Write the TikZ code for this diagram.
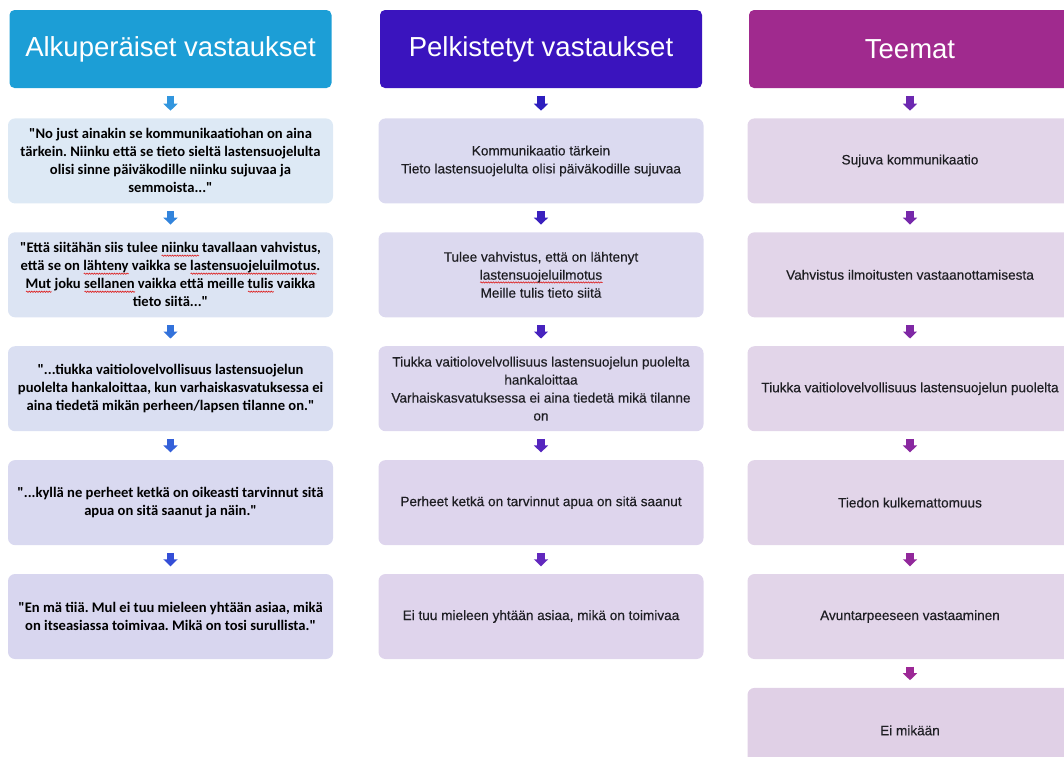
\documentclass[tikz,border=0pt]{standalone}
\usepackage{fontspec}
\setmainfont{Liberation Sans}
\newfontfamily\quotefont{Carlito}
\newfontfamily\plainfont[FakeBold=0.35]{Liberation Sans}
\usetikzlibrary{arrows.meta,positioning,decorations.pathmorphing}
\definecolor{hBlue}{RGB}{28,158,214}
\definecolor{hIndigo}{RGB}{58,20,190}
\definecolor{hPlum}{RGB}{160,42,142}
\definecolor{qTop}{RGB}{221,233,245}
\definecolor{qBot}{RGB}{216,214,239}
\definecolor{pTop}{RGB}{219,218,240}
\definecolor{pBot}{RGB}{223,212,236}
\definecolor{tFill}{RGB}{226,213,233}
\definecolor{aBlue}{RGB}{50,150,222}
\definecolor{aDeep}{RGB}{52,78,215}
\definecolor{aIndigo}{RGB}{45,30,190}
\definecolor{aViolet}{RGB}{98,40,190}
\definecolor{aPurple}{RGB}{108,40,176}
\definecolor{aMagenta}{RGB}{156,40,150}
\definecolor{ink}{RGB}{30,30,35}
\definecolor{spell}{RGB}{220,40,40}
\newcommand\qq{\textquotedbl}
% red spell-check squiggle under a word
\newsavebox\sqbox
\newcommand\sq[1]{\sbox\sqbox{#1}\rlap{\tikz[baseline=0pt]\draw[spell, sharp corners,
  line width=0.7pt, decorate, decoration={snake, amplitude=0.6pt, segment length=2.5pt}]
  (0pt,-2.8pt) -- (\the\wd\sqbox,-2.8pt);}\usebox\sqbox}
\frenchspacing

\begin{document}
\begin{tikzpicture}[x=1pt, y=1pt,
    head/.style={rounded corners=5pt, minimum width=322pt, minimum height=78pt,
      inner sep=0pt, text=white, font=\fontsize{27.5}{30}\selectfont},
    card/.style={rounded corners=7pt, minimum width=325pt, minimum height=85pt,
      inner sep=0pt, align=center},
    quote/.style={card, font=\quotefont\bfseries\fontsize{14.6}{18}\selectfont},
    short/.style={card, text=ink, font=\plainfont\fontsize{13.6}{18}\selectfont},
    flow/.style={line width=7.5pt, -{Triangle[width=14pt,length=7pt]},
      shorten <=7.5pt, shorten >=7.5pt}
]
  \useasboundingbox (0,0) rectangle (1064,-756);
  \clip (0,0) rectangle (1064,-756);

  % column 1: original answers
  \node[head, fill=hBlue] (h1) at (170.5,-49) {Alkuperäiset vastaukset};
  \node[quote, fill=qTop, below=30pt of h1] (q1)
    {\qq No just ainakin se kommunikaatiohan on aina\\
     tärkein. Niinku että se tieto sieltä lastensuojelulta\\
     olisi sinne päiväkodille niinku sujuvaa ja\\
     semmoista...\qq};
  \node[quote, fill=qBot!25!qTop, below=28.5pt of q1] (q2)
    {\qq Että siitähän siis tulee \sq{niinku} tavallaan vahvistus,\\
     että se on \sq{lähteny} vaikka se \sq{lastensuojeluilmotus}.\\
     \sq{Mut} joku \sq{sellanen} vaikka että meille \sq{tulis} vaikka\\
     tieto siitä...\qq};
  \node[quote, fill=qBot!55!qTop, below=28.5pt of q2] (q3)
    {\qq...tiukka vaitiolovelvollisuus lastensuojelun\\
     puolelta hankaloittaa, kun varhaiskasvatuksessa ei\\
     aina tiedetä mikän perheen/lapsen tilanne on.\qq};
  \node[quote, fill=qBot!85!qTop, below=28.5pt of q3] (q4)
    {\qq...kyllä ne perheet ketkä on oikeasti tarvinnut sitä\\
     apua on sitä saanut ja näin.\qq};
  \node[quote, fill=qBot, below=28.5pt of q4] (q5)
    {\qq En mä tiiä. Mul ei tuu mieleen yhtään asiaa, mikä\\
     on itseasiassa toimivaa. Mikä on tosi surullista.\qq};

  % column 2: simplified answers
  \node[head, fill=hIndigo] (h2) at (541,-49) {Pelkistetyt vastaukset};
  \node[short, fill=pTop, below=30pt of h2] (p1)
    {Kommunikaatio tärkein\\ Tieto lastensuojelulta olisi päiväkodille sujuvaa};
  \node[short, fill=pBot!25!pTop, below=28.5pt of p1] (p2)
    {Tulee vahvistus, että on lähtenyt\\ \sq{lastensuojeluilmotus}\\ Meille tulis tieto siitä};
  \node[short, fill=pBot!50!pTop, below=28.5pt of p2] (p3)
    {Tiukka vaitiolovelvollisuus lastensuojelun puolelta\\ hankaloittaa\\
     Varhaiskasvatuksessa ei aina tiedetä mikä tilanne\\ on};
  \node[short, fill=pBot!75!pTop, below=28.5pt of p3] (p4)
    {Perheet ketkä on tarvinnut apua on sitä saanut};
  \node[short, fill=pBot, below=28.5pt of p4] (p5)
    {Ei tuu mieleen yhtään asiaa, mikä on toimivaa};

  % column 3: themes
  \node[head, fill=hPlum] (h3) at (910,-49) {Teemat};
  \node[short, fill=tFill, below=30pt of h3] (t1) {Sujuva kommunikaatio};
  \node[short, fill=tFill, below=28.5pt of t1] (t2) {Vahvistus ilmoitusten vastaanottamisesta};
  \node[short, fill=tFill, below=28.5pt of t2] (t3) {Tiukka vaitiolovelvollisuus lastensuojelun puolelta};
  \node[short, fill=tFill, below=28.5pt of t3] (t4) {Tiedon kulkemattomuus};
  \node[short, fill=tFill, below=28.5pt of t4] (t5) {Avuntarpeeseen vastaaminen};
  \node[short, fill=tFill!97!hPlum, below=28.5pt of t5] (t6) {Ei mikään};

  % arrows
  \foreach \a/\b/\p in {h1/q1/0, q1/q2/25, q2/q3/50, q3/q4/75, q4/q5/100}
    \draw[flow, aDeep!\p!aBlue] (\a) -- (\b);
  \foreach \a/\b/\p in {h2/p1/0, p1/p2/25, p2/p3/50, p3/p4/75, p4/p5/100}
    \draw[flow, aViolet!\p!aIndigo] (\a) -- (\b);
  \foreach \a/\b/\p in {h3/t1/0, t1/t2/20, t2/t3/40, t3/t4/60, t4/t5/80, t5/t6/100}
    \draw[flow, aMagenta!\p!aPurple] (\a) -- (\b);
\end{tikzpicture}
\end{document}
